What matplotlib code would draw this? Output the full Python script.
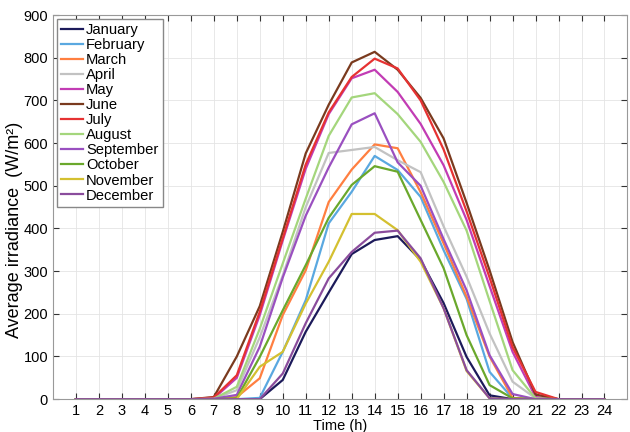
import matplotlib
matplotlib.use('Agg')
import matplotlib.pyplot as plt
import numpy as np

plt.rcParams['font.family'] = ['Liberation Sans', 'DejaVu Sans']

hours = np.arange(1, 25)

months = ['January', 'February', 'March', 'April', 'May', 'June',
          'July', 'August', 'September', 'October', 'November', 'December']

# hourly average irradiance, hours 1..24
jan = [0, 0, 0, 0, 0, 0, 0, 0, 0, 45, 158, 250, 340, 373, 382, 326, 225, 99, 9, 0, 0, 0, 0, 0]
feb = [0, 0, 0, 0, 0, 0, 0, 0, 3, 111, 232, 412, 486, 570, 537, 474, 349, 235, 64, 2, 0, 0, 0, 0]
mar = [0, 0, 0, 0, 0, 0, 0, 5, 49, 197, 302, 462, 538, 597, 588, 485, 365, 240, 100, 3, 0, 0, 0, 0]
apr = [0, 0, 0, 0, 0, 0, 1, 21, 145, 290, 450, 577, 584, 591, 560, 532, 405, 287, 154, 41, 2, 0, 0, 0]
may = [0, 0, 0, 0, 0, 0, 2, 50, 197, 372, 540, 668, 752, 772, 720, 645, 548, 420, 265, 111, 5, 0, 0, 0]
jun = [0, 0, 0, 0, 0, 0, 5, 100, 218, 392, 576, 690, 789, 814, 772, 706, 611, 460, 302, 134, 11, 0, 0, 0]
jul = [0, 0, 0, 0, 0, 0, 4, 56, 205, 377, 550, 672, 755, 798, 775, 700, 585, 440, 285, 122, 17, 0, 0, 0]
aug = [0, 0, 0, 0, 0, 0, 1, 29, 165, 318, 470, 617, 707, 717, 668, 603, 509, 395, 230, 68, 2, 0, 0, 0]
sep = [0, 0, 0, 0, 0, 0, 1, 10, 123, 285, 430, 543, 644, 670, 555, 500, 375, 255, 103, 12, 0, 0, 0, 0]
oct_ = [0, 0, 0, 0, 0, 0, 0, 2, 99, 208, 314, 425, 502, 546, 533, 420, 307, 150, 33, 2, 0, 0, 0, 0]
nov = [0, 0, 0, 0, 0, 0, 0, 0, 76, 111, 224, 322, 434, 434, 396, 322, 213, 66, 2, 0, 0, 0, 0, 0]
dec = [0, 0, 0, 0, 0, 0, 0, 0, 0, 60, 178, 283, 345, 390, 395, 330, 213, 68, 2, 0, 0, 0, 0, 0]

data = [jan, feb, mar, apr, may, jun, jul, aug, sep, oct_, nov, dec]
colors = ['#1c1a5a', '#5aa8e0', '#ff7f40', '#c2c2c2', '#c23cb4', '#7a3a1e',
          '#e63232', '#a4d67c', '#9a50c0', '#6aa82c', '#d4c030', '#8a4c9c']

fig = plt.figure(figsize=(6.3, 4.32), dpi=100)
ax = fig.add_axes([0.084, 0.076, 0.912, 0.889])

for name, vals, c in zip(months, data, colors):
    ax.plot(hours, vals, color=c, lw=1.6, label=name)

ax.set_xlim(0, 25)
ax.set_ylim(0, 900)
ax.set_xticks(hours)
ax.set_yticks(np.arange(0, 901, 100))
ax.grid(True, color='#e4e4e4', lw=0.6)
ax.tick_params(direction='in', top=True, right=True, labelsize=10.5, length=4, color='#333333')
for s in ax.spines.values():
    s.set_color('#999999')
    s.set_linewidth(0.8)

ax.set_xlabel('Time (h)', fontsize=10.5, labelpad=1)
ax.set_ylabel('Average irradiance  (W/m²)', fontsize=13)
ax.yaxis.set_label_coords(-0.052, 0.44)

ax.legend(loc='upper left', fontsize=10.6, handlelength=1.5, handletextpad=0.2,
          labelspacing=0.07, borderpad=0.3, borderaxespad=0.25,
          fancybox=False, edgecolor='#888888', framealpha=1)

fig.savefig('out.png', dpi=100)
